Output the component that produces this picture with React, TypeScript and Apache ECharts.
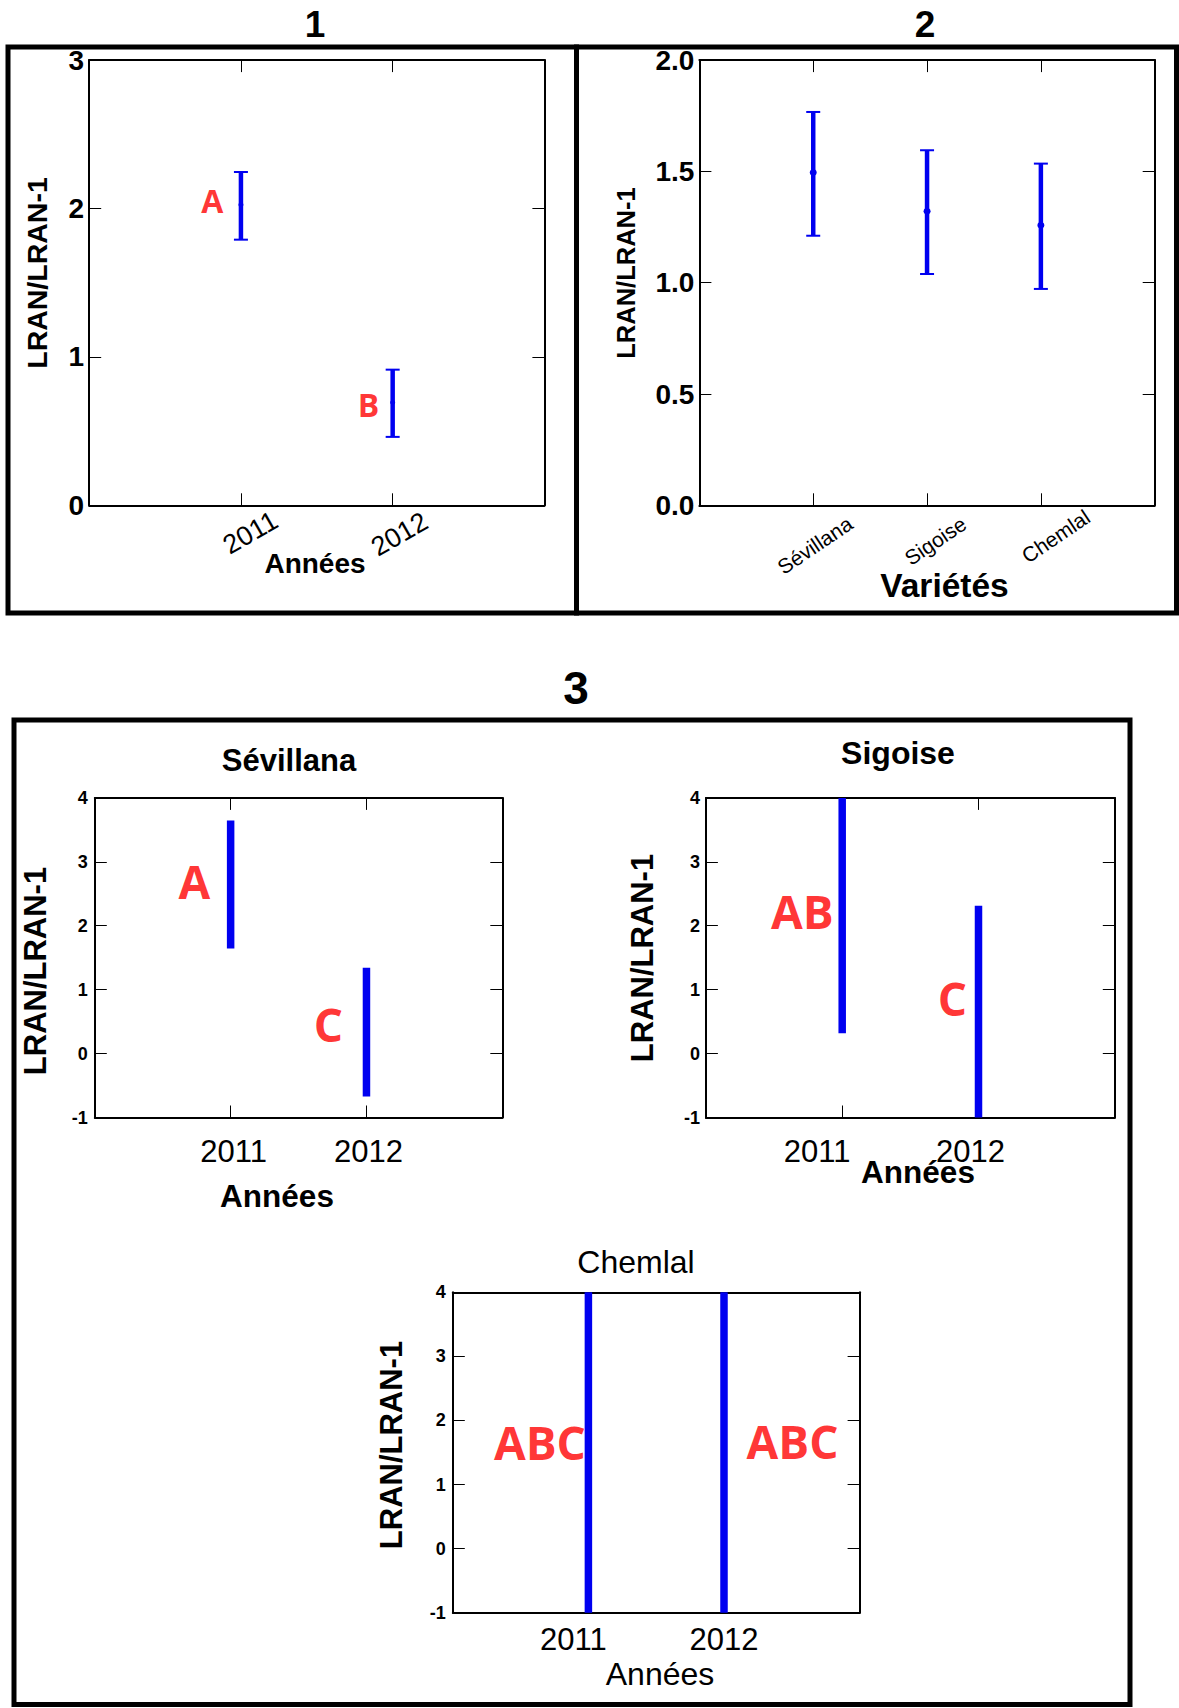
import React, { useEffect, useRef } from 'react';
import * as echarts from 'echarts';

// ---------- DATA ----------
const years = [2011, 2012];
const yearLabels = ['2011', '2012'];

// Panel 1 : LRAN/LRAN-1 by year
const p1Mean = [2.025, 0.693];
const p1Low = [1.79, 0.461];
const p1High = [2.246, 0.914];
const p1Letters = ['A', 'B'];
const p1LetterY = [2.057, 0.676];
const p1YTicks = [0, 1, 2, 3];

// Panel 2 : LRAN/LRAN-1 by variety
const varieties = ['Sévillana', 'Sigoise', 'Chemlal'];
const p2Mean = [1.495, 1.321, 1.258];
const p2Low = [1.211, 1.039, 0.972];
const p2High = [1.767, 1.595, 1.535];
const p2YTicks = ['0.0', '0.5', '1.0', '1.5', '2.0'];

// Panel 3 : interaction year x variety
const p3YTicks = [-1, 0, 1, 2, 3, 4];
const sevMean = [2.665, 0.346];
const sevLow = [1.642, -0.67];
const sevHigh = [3.648, 1.341];
const sevLetters = ['A', 'C'];
const sevLetterY = [2.707, 0.462];

const sigMean = [2.2, 0.65];
const sigLow = [0.318, -1.3];
const sigHigh = [4.3, 2.313];
const sigLetters = ['AB', 'C'];
const sigLetterY = [2.23, 0.87];

const chemMean = [1.5, 1.5];
const chemLow = [-1.3, -1.3];
const chemHigh = [4.3, 4.3];
const chemLetters = ['ABC', 'ABC'];
const chemLetterY = [1.66, 1.68];

// ---------- STYLE / LAYOUT ----------
const FONT = '"Liberation Sans", Arial, sans-serif';
const LFONT = '"Open Sans", "Liberation Sans", sans-serif';
const BLUE = '#0000f0';
const RED = '#ff0000';

const grids = [
  { left: 89.2, top: 60.1, width: 455.2, height: 445.2 },
  { left: 699.4, top: 60.1, width: 455.3, height: 445.2 },
  { left: 94.8, top: 797.9, width: 407.5, height: 319.6 },
  { left: 705.9, top: 797.9, width: 408.9, height: 319.6 },
  { left: 452.8, top: 1292.3, width: 406.8, height: 320.4 },
];

const axisLineStyle = { color: '#000', width: 2 };
const tickStyle = { show: true, inside: true, length: 12, lineStyle: { color: '#000', width: 1 } };

function yearFormatter() {
  return (v: number) => {
    const i = years.indexOf(v);
    if (i < 0) return '';
    return `{s${i}|${yearLabels[i]}}`;
  };
}
function yearRich(fontSize: number, fontWeight: string, padL: number[], padR: number[]) {
  const r: any = {};
  years.forEach((_, i) => {
    r['s' + i] = { fontSize, fontWeight, fontFamily: FONT, color: '#000', padding: [0, padR[i], 0, padL[i]] };
  });
  return r;
}
function varietyFormatter() {
  return (v: number) => (v >= 1 && v <= varieties.length ? `{v${v - 1}|${varieties[v - 1]}}` : '');
}
function varietyRich(fontSize: number, padL: number[]) {
  const r: any = {};
  varieties.forEach((_, i) => {
    r['v' + i] = { fontSize, fontFamily: FONT, color: '#000', padding: [0, 0, 0, padL[i]] };
  });
  return r;
}

function buildAxes() {
  const xAxis: any[] = [];
  const yAxis: any[] = [];
  const xCfg = [
    { min: 2010, max: 2013, label: { rotate: 30, margin: 33, align: 'center', verticalAlign: 'middle', formatter: yearFormatter(), rich: yearRich(27, 'normal', [22, 16], [0, 0]) } },
    { min: 0, max: 4, label: { rotate: 34, margin: 41, align: 'center', verticalAlign: 'middle', formatter: varietyFormatter(), rich: varietyRich(21, [4, 20, 36]) } },
    { min: 2010, max: 2013, label: { margin: 34, verticalAlign: 'middle', formatter: yearFormatter(), rich: yearRich(31, 'normal', [6, 4], [0, 0]) } },
    { min: 2010, max: 2013, label: { margin: 34, verticalAlign: 'middle', formatter: yearFormatter(), rich: yearRich(31, 'normal', [0, 0], [50, 16]) } },
    { min: 2010, max: 2013, label: { margin: 27, verticalAlign: 'middle', formatter: yearFormatter(), rich: yearRich(31, 'normal', [0, 0], [30, 0]) } },
  ];
  const yCfg = [
    { min: p1YTicks[0], max: p1YTicks[p1YTicks.length - 1], interval: 1, label: { fontSize: 28, fontWeight: 'bold', margin: 5, formatter: (v: number) => String(v) } },
    { min: 0, max: 2, interval: 0.5, label: { fontSize: 28, fontWeight: 'bold', margin: 5, formatter: (v: number) => p2YTicks[Math.round(v / 0.5)] } },
    { min: p3YTicks[0], max: p3YTicks[p3YTicks.length - 1], interval: 1, label: { fontSize: 18, fontWeight: 'bold', margin: 7, formatter: (v: number) => String(v) } },
    { min: p3YTicks[0], max: p3YTicks[p3YTicks.length - 1], interval: 1, label: { fontSize: 18, fontWeight: 'bold', margin: 6, formatter: (v: number) => String(v) } },
    { min: p3YTicks[0], max: p3YTicks[p3YTicks.length - 1], interval: 1, label: { fontSize: 18, fontWeight: 'bold', margin: 7, formatter: (v: number) => String(v) } },
  ];
  grids.forEach((_, gi) => {
    const xc = xCfg[gi];
    xAxis.push({
      type: 'value', gridIndex: gi, position: 'bottom', min: xc.min, max: xc.max, interval: 1,
      axisLine: { show: true, onZero: false, lineStyle: axisLineStyle },
      axisTick: tickStyle, splitLine: { show: false },
      axisLabel: { show: true, color: '#000', fontFamily: FONT, showMinLabel: true, showMaxLabel: true, hideOverlap: false, ...xc.label },
    });
    xAxis.push({
      type: 'value', gridIndex: gi, position: 'top', min: xc.min, max: xc.max, interval: 1,
      axisLine: { show: true, onZero: false, lineStyle: axisLineStyle },
      axisTick: tickStyle, splitLine: { show: false }, axisLabel: { show: false },
    });
    const yc = yCfg[gi];
    yAxis.push({
      type: 'value', gridIndex: gi, position: 'left', min: yc.min, max: yc.max, interval: yc.interval,
      axisLine: { show: true, onZero: false, lineStyle: axisLineStyle },
      axisTick: tickStyle, splitLine: { show: false },
      axisLabel: { show: true, color: '#000', fontFamily: FONT, showMinLabel: true, showMaxLabel: true, ...yc.label },
    });
    yAxis.push({
      type: 'value', gridIndex: gi, position: 'right', min: yc.min, max: yc.max, interval: yc.interval,
      axisLine: { show: true, onZero: false, lineStyle: axisLineStyle },
      axisTick: tickStyle, splitLine: { show: false }, axisLabel: { show: false },
    });
  });
  return { xAxis, yAxis };
}

function errorSeries(gi: number, data: number[][], opt: { lw: number; cap: number; dot: number }) {
  return {
    type: 'custom',
    xAxisIndex: gi * 2,
    yAxisIndex: gi * 2,
    data,
    z: 5,
    renderItem: (params: any, api: any) => {
      const cs = params.coordSys;
      const x = api.value(0);
      const m = api.value(1);
      const lo = api.value(2);
      const hi = api.value(3);
      const px = api.coord([x, lo])[0];
      const clamp = (v: number) => Math.min(Math.max(v, cs.y), cs.y + cs.height);
      const yLo = clamp(api.coord([x, lo])[1]);
      const yHi = clamp(api.coord([x, hi])[1]);
      const yM = api.coord([x, m])[1];
      const children: any[] = [
        { type: 'line', shape: { x1: px, y1: yHi, x2: px, y2: yLo }, style: { stroke: BLUE, lineWidth: opt.lw, lineCap: 'butt' } },
      ];
      if (opt.cap > 0) {
        children.push({ type: 'line', shape: { x1: px - opt.cap / 2, y1: yHi, x2: px + opt.cap / 2, y2: yHi }, style: { stroke: BLUE, lineWidth: 2 } });
        children.push({ type: 'line', shape: { x1: px - opt.cap / 2, y1: yLo, x2: px + opt.cap / 2, y2: yLo }, style: { stroke: BLUE, lineWidth: 2 } });
      }
      if (opt.dot > 0) {
        children.push({ type: 'circle', shape: { cx: px, cy: yM, r: opt.dot }, style: { fill: BLUE } });
      }
      return { type: 'group', children };
    },
  };
}

function letterSeries(gi: number, xs: number[], ys: number[], letters: string[], place: [string, number][], fontSize: number) {
  return {
    type: 'scatter',
    xAxisIndex: gi * 2,
    yAxisIndex: gi * 2,
    symbolSize: 1,
    itemStyle: { color: 'rgba(0,0,0,0)' },
    z: 6,
    data: xs.map((x, i) => ({
      value: [x, ys[i]],
      name: letters[i],
      label: { position: place[i][0], distance: place[i][1] },
    })),
    label: {
      show: true,
      formatter: (p: any) => p.name,
      color: RED,
      fontFamily: LFONT,
      fontWeight: 'bold',
      fontSize,
      verticalAlign: 'middle',
    },
  };
}

function txt(text: string, x: number, y: number, fontSize: number, bold: boolean, rot = 0) {
  return {
    type: 'text',
    x, y,
    rotation: rot,
    style: {
      text, x: 0, y: 0,
      fill: '#000',
      fontFamily: FONT,
      fontSize,
      fontWeight: bold ? 'bold' : 'normal',
      align: 'center',
      verticalAlign: 'middle',
    },
  };
}

function rect(x: number, y: number, w: number, h: number) {
  return { type: 'rect', shape: { x, y, width: w, height: h }, style: { fill: 'none', stroke: '#000', lineWidth: 5 } };
}

export default function App() {
  const ref = useRef<HTMLDivElement>(null);
  useEffect(() => {
    if (!ref.current) return;
    const chart = echarts.init(ref.current, null, { renderer: 'svg' });
    const { xAxis, yAxis } = buildAxes();
    const mk = (xs: number[], m: number[], lo: number[], hi: number[]) => xs.map((x, i) => [x, m[i], lo[i], hi[i]]);
    const varX = varieties.map((_, i) => i + 1);
    const R = Math.PI / 2;
    chart.setOption({
      animation: false,
      backgroundColor: '#fff',
      grid: grids.map((g) => ({ ...g, containLabel: false })),
      xAxis,
      yAxis,
      series: [
        errorSeries(0, mk(years, p1Mean, p1Low, p1High), { lw: 4.5, cap: 14, dot: 2.5 }),
        errorSeries(1, mk(varX, p2Mean, p2Low, p2High), { lw: 4.5, cap: 14, dot: 3.5 }),
        errorSeries(2, mk(years, sevMean, sevLow, sevHigh), { lw: 7.5, cap: 0, dot: 0 }),
        errorSeries(3, mk(years, sigMean, sigLow, sigHigh), { lw: 7.5, cap: 0, dot: 0 }),
        errorSeries(4, mk(years, chemMean, chemLow, chemHigh), { lw: 7.5, cap: 0, dot: 0 }),
        letterSeries(0, years, p1LetterY, p1Letters, [['left', 17], ['left', 13]], 32),
        letterSeries(2, years, sevLetterY, sevLetters, [['left', 20], ['left', 23]], 46),
        letterSeries(3, years, sigLetterY, sigLetters, [['left', 8], ['left', 11]], 46),
        letterSeries(4, years, chemLetterY, chemLetters, [['left', 2], ['right', 22]], 46),
      ],
      graphic: [
        rect(8, 47, 568.5, 566),
        rect(576.5, 47, 600, 566),
        rect(14, 720, 1116, 984.5),
        txt('1', 315, 24, 37, true),
        txt('2', 925, 24, 37, true),
        txt('3', 576, 688, 46, true),
        txt('LRAN/LRAN-1', 37, 273, 28.5, true, R),
        txt('Années', 315, 563, 28, true),
        txt('LRAN/LRAN-1', 626, 273, 25.5, true, R),
        txt('Variétés', 944.5, 585, 33.5, true),
        txt('Sévillana', 289, 760, 31, true),
        txt('Sigoise', 898, 753, 32, true),
        txt('Chemlal', 636, 1262, 32, false),
        txt('LRAN/LRAN-1', 35, 971, 31, true, R),
        txt('LRAN/LRAN-1', 642, 958, 31, true, R),
        txt('LRAN/LRAN-1', 391, 1445, 31, true, R),
        txt('Années', 277, 1196, 31.5, true),
        txt('Années', 918, 1172, 31.5, true),
        txt('Années', 660, 1674, 32, false),
      ],
    });
    return () => chart.dispose();
  }, []);
  return <div ref={ref} style={{ position: 'absolute', left: 0, top: 0, width: 1179, height: 1708 }} />;
}
